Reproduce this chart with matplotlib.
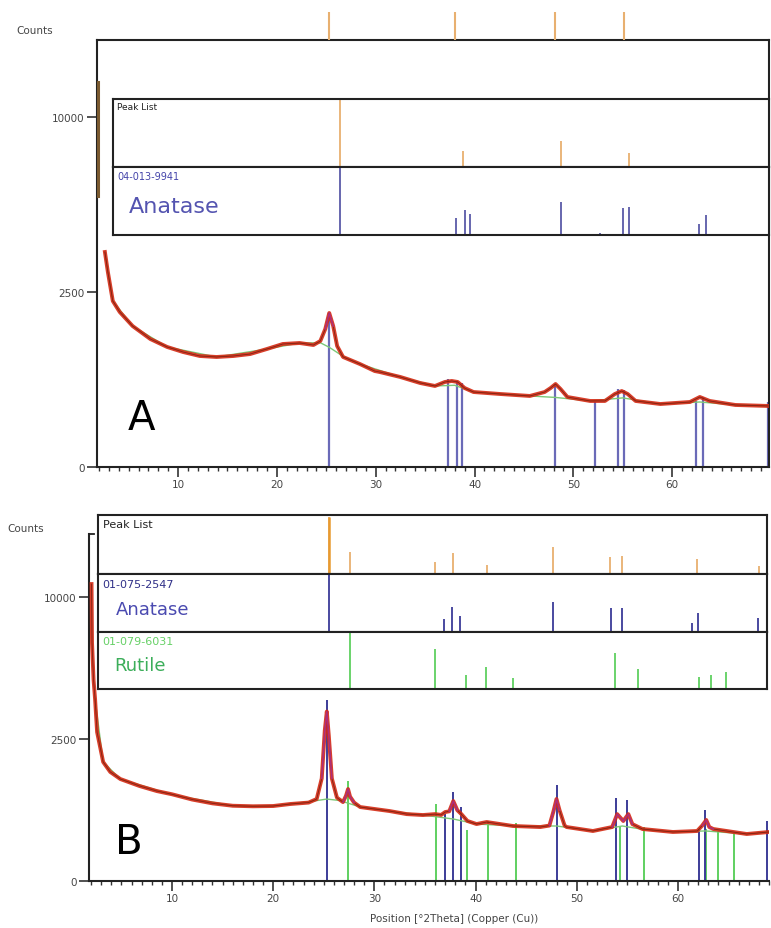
import numpy as np
import matplotlib
matplotlib.use('Agg')
import matplotlib.pyplot as plt
from matplotlib.ticker import MultipleLocator

W, H = 771, 929

# ---------------- panel A ----------------
a_spike_x = [1.9, 1.9]          # off-scale rise at the very start of the scan
a_spike = [12100, 6000]
a_x = [2.6, 2.9, 3.4, 4.1, 5.4, 7.2, 8.9, 10.5, 12.2, 13.9, 15.6, 17.3, 19.0, 20.6,
       22.3, 23.7, 24.4, 24.9, 25.3, 25.7, 26.1, 26.7, 28.4, 29.9, 30.4, 32.5, 34.5, 36.0, 37.0,
       37.7, 38.3, 39.0, 39.9, 42.6, 45.6, 47.1, 47.7, 48.2, 48.7, 49.4, 51.7, 53.2, 54.2, 54.9,
       55.5, 56.3, 58.8, 61.8, 62.8, 63.8, 66.4, 69.8]
a_counts = [3773, 3104, 2249, 1961, 1623, 1337, 1176, 1080, 1006, 988, 1006, 1042, 1137, 1235,
            1255, 1215, 1296, 1555, 1936, 1623, 1195, 988, 866, 752, 737, 661, 576, 536, 590,
            604, 590, 509, 459, 435, 412, 459, 509, 562, 497, 400, 356, 356, 435, 471,
            435, 356, 324, 345, 400, 356, 314, 304]
a_bg_x = [2.6, 3.4, 5.4, 8.9, 13.9, 19.0, 22.3, 24.4, 25.3, 26.7, 28.4, 32.5, 36.0, 38.0, 39.9,
          45.6, 48.2, 51.7, 55.0, 58.8, 62.8, 66.4, 69.8]
a_bg = [3773, 2249, 1623, 1176, 988, 1137, 1255, 1260, 1170, 1000, 866, 661, 536, 545, 459,
        412, 395, 356, 390, 324, 345, 314, 304]

a_peaks = [25.3, 38.0, 48.1, 55.1]                 # "Peak List"
a_peaks_rel = [1.0, 0.24, 0.38, 0.21]
a_anatase = [25.3, 37.3, 38.2, 38.7, 48.1, 52.2, 54.5, 55.1, 62.4, 63.1, 69.7]   # 04-013-9941
a_anatase_rel = [1.0, 0.25, 0.37, 0.31, 0.49, 0.03, 0.40, 0.41, 0.16, 0.29, 0.24]
a_anatase_top = [1936, 632, 604, 576, 562, 345, 497, 484, 356, 400, 345]

# ---------------- panel B ----------------
b_x = [2.05, 2.1, 2.25, 2.4, 2.6, 3.2, 3.9, 4.9, 6.8, 8.5, 10.0, 12.0, 14.0, 16.0, 18.0, 20.0,
       21.7, 23.5, 24.3, 24.8, 25.1, 25.3, 25.5, 25.8, 26.3, 26.9, 27.2, 27.4, 27.6, 28.0, 28.6,
       31.5, 33.2, 34.8, 36.0, 36.6, 37.0, 37.4, 37.8, 38.2, 38.6, 39.2, 40.1, 41.1, 43.7, 46.4,
       47.3, 47.7, 48.0, 48.3, 48.8, 49.0, 51.6, 53.5, 54.0, 54.6, 55.1, 55.5, 56.5, 59.5, 61.9,
       62.4, 62.8, 63.1, 63.5, 66.8, 69.0]
b_counts = [10900, 7000, 5000, 4090, 2740, 1750, 1470, 1285, 1115, 1000, 930, 820, 745, 700, 690, 695,
            733, 760, 831, 1300, 2800, 3550, 2600, 1300, 860, 770, 900, 1045, 880, 760, 676,
            605, 553, 538, 553, 540, 588, 600, 790, 620, 553, 445, 401, 430, 374, 360,
            380, 600, 831, 620, 380, 360, 309, 360, 553, 445, 553, 400, 334, 297, 309,
            380, 460, 360, 334, 273, 297]
b_bg_x = [2.4, 3.2, 4.9, 10.0, 16.0, 20.0, 24.0, 25.3, 26.6, 28.6, 31.5, 34.8, 37.8, 40.1, 44.0,
          48.0, 51.6, 54.5, 57.0, 60.0, 62.7, 66.8, 69.0]
b_bg = [4090, 1750, 1285, 920, 700, 695, 790, 830, 800, 676, 605, 538, 475, 401, 374,
        374, 309, 374, 320, 297, 310, 273, 297]

b_peaks = [25.3, 27.4, 36.1, 37.9, 41.3, 48.0, 53.8, 55.0, 62.6, 68.9]
b_peaks_rel = [0.97, 0.37, 0.20, 0.36, 0.15, 0.46, 0.29, 0.31, 0.25, 0.14]
b_anatase = [25.3, 37.0, 37.8, 38.6, 48.0, 53.9, 55.0, 62.1, 62.7, 68.8]       # 01-075-2547
b_anatase_rel = [1.0, 0.22, 0.43, 0.28, 0.52, 0.41, 0.41, 0.16, 0.33, 0.24]
b_anatase_top = [4030, 553, 975, 674, 1135, 850, 810, 335, 620, 445]
b_rutile = [27.4, 36.1, 39.2, 41.2, 44.0, 54.3, 56.6, 62.8, 64.0, 65.5]         # 01-079-6031
b_rutile_rel = [1.0, 0.70, 0.25, 0.39, 0.19, 0.63, 0.35, 0.21, 0.25, 0.30]
b_rutile_top = [1235, 730, 320, 440, 410, 370, 360, 335, 310, 275]

ORANGE = '#e8b070'
ORANGE_B = '#e89a30'
GREEN = '#5fd060'
TXT = '#454545'


def rect(l, t, r, b):
    return [l / W, 1 - b / H, (r - l) / W, (b - t) / H]


def sqrt_axis(ax, xlim):
    ax.set_yscale('function', functions=(lambda v: np.sqrt(np.clip(v, 0, None)), np.square))
    ax.set_ylim(0, 14884)
    ax.set_xlim(*xlim)
    ax.set_yticks([0, 2500, 10000])
    ax.set_yticklabels(['0', '2500', '10000'])
    ax.set_xticks([10, 20, 30, 40, 50, 60])
    ax.xaxis.set_minor_locator(MultipleLocator(1))
    ax.yaxis.set_minor_locator(plt.NullLocator())
    ax.tick_params(axis='both', which='major', direction='out', length=7, width=1.2,
                   labelsize=7.5, labelcolor=TXT, color='#333333', pad=2)
    ax.tick_params(axis='x', which='minor', direction='out', length=3, width=1.0, color='#333333')
    for s in ax.spines.values():
        s.set_linewidth(1.5)
        s.set_color('#222222')


def draw_scan(ax, x, y, bx, by, peaks):
    x = np.array(x)
    y = np.array(y)
    ax.plot(bx, by, color='#7cc878', lw=1.0, zorder=3)
    ax.plot(x, y, color='#d42a14', lw=2.8, alpha=0.9, zorder=4, solid_joinstyle='round')
    ax.plot(x, y, color='#6a1c0e', lw=0.6, alpha=0.8, zorder=5)
    for p in peaks:
        m = np.abs(x - p) < 0.75
        if m.sum() > 1:
            ax.plot(x[m], y[m], color='#b2308e', lw=1.1, alpha=0.85, zorder=6)


def stick_panel(rect_, xlim, pos, rel, color, lw=1.2):
    ax = fig.add_axes(rect_)
    ax.set_xlim(*xlim)
    ax.set_ylim(0, 1)
    ax.vlines(pos, 0, rel, color=color, lw=lw)
    ax.set_xticks([])
    ax.set_yticks([])
    for s in ax.spines.values():
        s.set_linewidth(1.5)
        s.set_color('#222222')
    return ax


fig = plt.figure(figsize=(W / 100, H / 100), dpi=100)

# ================= A =================
axA = fig.add_axes(rect(97, 41, 769, 468))
sqrt_axis(axA, (1.8, 69.8))
axA.vlines(a_anatase, 0, a_anatase_top, color='#6a6ab8', lw=1.6, zorder=2)
axA.plot(a_spike_x, a_spike, color='#7a5a30', lw=2.2, zorder=4)
draw_scan(axA, a_x, a_counts, a_bg_x, a_bg, [25.3])

# peak markers above the frame
axAtop = fig.add_axes(rect(97, 13, 769, 41))
axAtop.set_xlim(1.8, 69.8)
axAtop.set_ylim(0, 1)
axAtop.vlines(a_peaks, 0, 1, color=ORANGE, lw=1.5)
axAtop.axis('off')

insA1 = stick_panel(rect(113, 100, 769, 168), (1.87, 69.6), a_peaks, a_peaks_rel, ORANGE, 1.3)
insA1.text(0.006, 0.95, 'Peak List', transform=insA1.transAxes, ha='left', va='top',
           fontsize=6.5, color='#222222')
insA2 = stick_panel(rect(113, 168, 769, 236), (1.87, 69.6), a_anatase, a_anatase_rel, '#5a5aa8', 1.3)
insA2.text(0.006, 0.94, '04-013-9941', transform=insA2.transAxes, ha='left', va='top',
           fontsize=7, color='#4444aa')
insA2.text(0.024, 0.34, 'Anatase', transform=insA2.transAxes, ha='left', va='baseline',
           fontsize=16, color='#5454b0')

fig.text(16 / W, 1 - 31 / H, 'Counts', ha='left', va='center', fontsize=7.5, color=TXT)
fig.text(128 / W, 1 - 430 / H, 'A', ha='left', va='baseline', fontsize=29, color='black')

# ================= B =================
axB = fig.add_axes(rect(89, 535, 769, 882))
sqrt_axis(axB, (1.8, 69.0))
axB.spines['top'].set_visible(False)
axB.spines['right'].set_visible(False)
axB.plot([0, 0.008], [1, 1], transform=axB.transAxes, color='#222222', lw=1.3, clip_on=False)
axB.vlines(b_rutile, 0, b_rutile_top, color=GREEN, lw=1.4, zorder=2)
axB.vlines(b_anatase, 0, b_anatase_top, color='#3c3c98', lw=1.4, zorder=2)
draw_scan(axB, b_x, b_counts, b_bg_x, b_bg, [25.3, 27.4, 37.8, 48.0, 54.0, 55.1, 62.8])

insB1 = stick_panel(rect(98, 516, 767, 575), (1.9, 69.7), b_peaks, b_peaks_rel, ORANGE, 1.3)
insB1.vlines(b_peaks[:1], 0, b_peaks_rel[:1], color=ORANGE_B, lw=1.8)
insB1.text(0.007, 0.93, 'Peak List', transform=insB1.transAxes, ha='left', va='top',
           fontsize=8, color='#222222')
insB2 = stick_panel(rect(98, 575, 767, 633), (1.9, 69.7), b_anatase, b_anatase_rel, '#3c3c98', 1.3)
insB2.text(0.006, 0.91, '01-075-2547', transform=insB2.transAxes, ha='left', va='top',
           fontsize=8, color='#303088')
insB2.text(0.027, 0.31, 'Anatase', transform=insB2.transAxes, ha='left', va='baseline',
           fontsize=13, color='#4a4ab0')
insB3 = stick_panel(rect(98, 633, 767, 690), (1.9, 69.7), b_rutile, b_rutile_rel, GREEN, 1.3)
insB3.text(0.006, 0.93, '01-079-6031', transform=insB3.transAxes, ha='left', va='top',
           fontsize=8, color='#66d066')
insB3.text(0.024, 0.33, 'Rutile', transform=insB3.transAxes, ha='left', va='baseline',
           fontsize=13, color='#3cae5a')

fig.text(7 / W, 1 - 529 / H, 'Counts', ha='left', va='center', fontsize=7.5, color=TXT)
fig.text(115 / W, 1 - 854 / H, 'B', ha='left', va='baseline', fontsize=29, color='black')
fig.text(454 / W, 1 - 919 / H, 'Position [°2Theta] (Copper (Cu))', ha='center', va='center',
         fontsize=7.5, color=TXT)

fig.savefig('out.png', dpi=100, facecolor='white')
